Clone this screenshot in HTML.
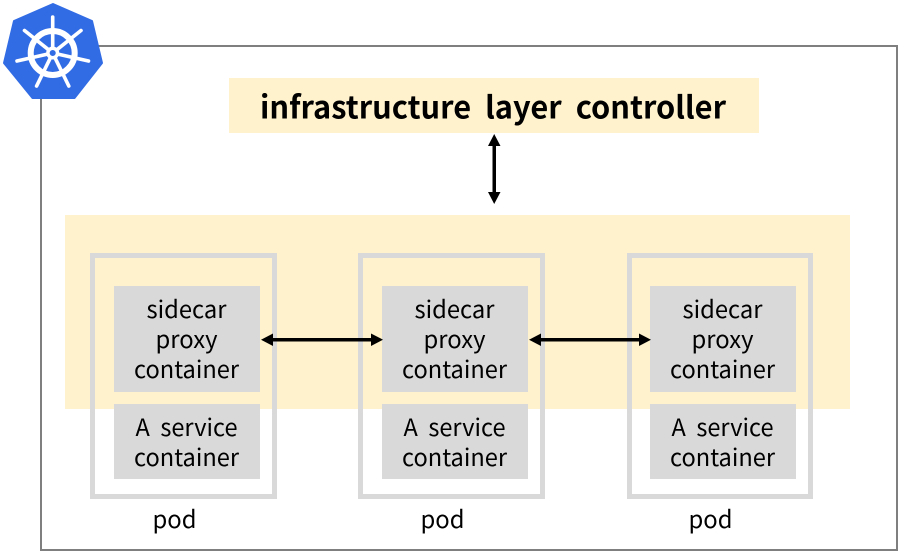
<!DOCTYPE html>
<html>
<head>
<meta charset="utf-8">
<style>
html,body{margin:0;padding:0;background:#fff}
svg{display:block}
text{font-family:"Noto Sans CJK KR","NanumGothic","Liberation Sans",sans-serif;font-size:24px;fill:#000;text-anchor:middle}
</style>
</head>
<body>
<svg width="898" height="551" viewBox="0 0 898 551" xmlns="http://www.w3.org/2000/svg">
<rect width="898" height="551" fill="#fff"/>
<rect x="41" y="46" width="856" height="504" fill="#fff" stroke="#7f7f7f" stroke-width="2"/>
<rect x="229" y="78" width="530" height="55" fill="#fff2cc"/>
<rect x="65" y="215" width="785" height="194" fill="#fff2cc"/>

<g fill="none" stroke="#d9d9d9" stroke-width="5">
<rect x="92.5" y="255.5" width="182" height="241"/>
<rect x="360.5" y="255.5" width="182" height="241"/>
<rect x="629.5" y="255.5" width="181" height="241"/>
</g>
<g fill="#d9d9d9">
<rect x="114" y="286" width="146" height="106"/>
<rect x="114" y="404" width="146" height="75"/>
<rect x="382" y="286" width="146" height="106"/>
<rect x="382" y="404" width="146" height="75"/>
<rect x="650" y="286" width="146" height="106"/>
<rect x="650" y="404" width="146" height="75"/>
</g>

<text x="493" y="118.5" style="font-size:31px;font-weight:700" textLength="466" lengthAdjust="spacingAndGlyphs">infrastructure&#160;&#160;layer&#160;&#160;controller</text>

<text x="186.5" y="318" textLength="80" lengthAdjust="spacingAndGlyphs">sidecar</text>
<text x="186.5" y="348" textLength="62" lengthAdjust="spacingAndGlyphs">proxy</text>
<text x="186.5" y="378" textLength="105" lengthAdjust="spacingAndGlyphs">container</text>
<text x="186.5" y="436" textLength="102" lengthAdjust="spacingAndGlyphs">A&#160;&#160;service</text>
<text x="186.5" y="466" textLength="105" lengthAdjust="spacingAndGlyphs">container</text>
<text x="174.5" y="528" textLength="44" lengthAdjust="spacingAndGlyphs">pod</text>

<text x="454.5" y="318" textLength="80" lengthAdjust="spacingAndGlyphs">sidecar</text>
<text x="454.5" y="348" textLength="62" lengthAdjust="spacingAndGlyphs">proxy</text>
<text x="454.5" y="378" textLength="105" lengthAdjust="spacingAndGlyphs">container</text>
<text x="454.5" y="436" textLength="102" lengthAdjust="spacingAndGlyphs">A&#160;&#160;service</text>
<text x="454.5" y="466" textLength="105" lengthAdjust="spacingAndGlyphs">container</text>
<text x="442.5" y="528" textLength="44" lengthAdjust="spacingAndGlyphs">pod</text>

<text x="722.5" y="318" textLength="80" lengthAdjust="spacingAndGlyphs">sidecar</text>
<text x="722.5" y="348" textLength="62" lengthAdjust="spacingAndGlyphs">proxy</text>
<text x="722.5" y="378" textLength="105" lengthAdjust="spacingAndGlyphs">container</text>
<text x="722.5" y="436" textLength="102" lengthAdjust="spacingAndGlyphs">A&#160;&#160;service</text>
<text x="722.5" y="466" textLength="105" lengthAdjust="spacingAndGlyphs">container</text>
<text x="710.5" y="528" textLength="44" lengthAdjust="spacingAndGlyphs">pod</text>

<!-- arrows -->
<g fill="#000" stroke="none">
<rect x="270" y="338" width="104" height="3.5"/>
<polygon points="261,339.7 273,333.5 273,346"/>
<polygon points="383,339.7 371,333.5 371,346"/>
<rect x="538" y="338" width="104" height="3.5"/>
<polygon points="529,339.7 541,333.5 541,346"/>
<polygon points="651,339.7 639,333.5 639,346"/>
<rect x="492.5" y="143" width="3.5" height="52"/>
<polygon points="494.2,134 488,146 500.5,146"/>
<polygon points="494.2,204 488,192 500.5,192"/>
</g>

<!-- kubernetes logo -->
<polygon points="53,4 92,21 102,63 74.5,98 32.5,98 4,63 14,21" fill="#326ce5" stroke="#326ce5" stroke-width="2" stroke-linejoin="round"/>
<g fill="none" stroke="#fff" stroke-linecap="round">
<circle cx="52.7" cy="53" r="22" stroke-width="6"/>
<circle cx="52.7" cy="53" r="4.8" stroke-width="3.5" fill="#326ce5"/>
<g stroke-width="3.6">
<line x1="52.7" y1="47" x2="52.7" y2="17"/>
<line x1="57.4" y1="49.3" x2="81" y2="30.5"/>
<line x1="58.5" y1="54.3" x2="88.5" y2="61"/>
<line x1="55.3" y1="58.4" x2="68.8" y2="86"/>
<line x1="50.1" y1="58.4" x2="36.6" y2="86"/>
<line x1="46.9" y1="54.3" x2="17" y2="61"/>
<line x1="48" y1="49.3" x2="24.5" y2="30.5"/>
</g>
</g>
</svg>
</body>
</html>
